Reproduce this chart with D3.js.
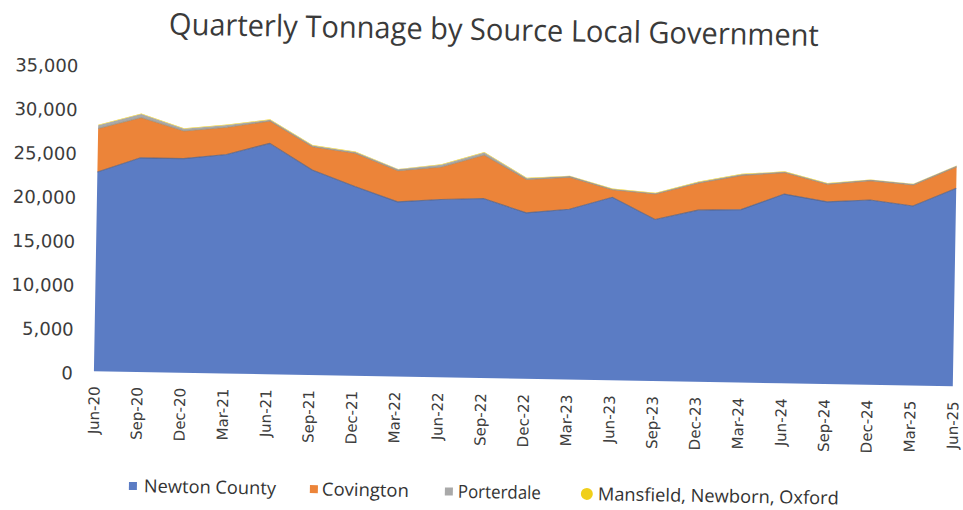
<!DOCTYPE html>
<html>
<head>
<meta charset="utf-8">
<script src="https://cdn.jsdelivr.net/npm/d3@7"></script>
<style>
  html, body { margin: 0; padding: 0; background: #fff; }
  svg { display: block; }
</style>
</head>
<body>
<svg id="chart" width="963" height="510"></svg>
<script>
const categories = ["Jun-20","Sep-20","Dec-20","Mar-21","Jun-21","Sep-21","Dec-21","Mar-22","Jun-22","Sep-22","Dec-22","Mar-23","Jun-23","Sep-23","Dec-23","Mar-24","Jun-24","Sep-24","Dec-24","Mar-25","Jun-25"];
const newtonCounty = [22700,24400,24400,24950,26300,23350,21550,19900,20250,20450,18900,19400,20850,18400,19550,19700,21550,20750,21050,20450,22550];
const covington    = [4950,4600,3150,3100,2550,2650,3800,3550,3700,4950,3800,3650,850,2900,3100,3900,2450,2000,2200,2400,2450];
const porterdale   = [370,380,250,250,150,150,150,150,250,300,150,120,100,100,100,120,100,100,100,100,120];
const mansfieldNewbornOxford = [60,80,60,60,50,50,60,50,70,60,50,50,40,40,50,50,40,40,40,40,40];
const seriesNames = ["Newton County","Covington","Porterdale","Mansfield, Newborn, Oxford"];
const seriesColors = ["#5b7cc4","#ec8439","#a9a9a9","#f0cf1a"];
const yTicks = [0,5000,10000,15000,20000,25000,30000,35000];

const rows = categories.map((c,i) => ({
  cat: c,
  "Newton County": newtonCounty[i],
  "Covington": covington[i],
  "Porterdale": porterdale[i],
  "Mansfield, Newborn, Oxford": mansfieldNewbornOxford[i]
}));

const svg = d3.select("#chart");
svg.append("rect").attr("width",963).attr("height",510).attr("fill","#fff");
const g = svg.append("g").attr("transform","rotate(1.0,480,255)");

const x = d3.scalePoint().domain(categories).range([96,955]);
const y = d3.scaleLinear().domain([0,35000]).range([378,70.7]);

const stack = d3.stack().keys(seriesNames);
const layers = stack(rows);

const area = d3.area()
  .x(d => x(d.data.cat))
  .y0(d => y(d[0]))
  .y1(d => y(d[1]));
const topLine = d3.line()
  .x(d => x(d.data.cat))
  .y(d => y(d[1]));

g.selectAll("path.layer").data(layers).join("path")
  .attr("class","layer")
  .attr("d", area)
  .attr("fill", (d,i) => seriesColors[i]);

g.selectAll("path.edge").data(layers.slice(0,2)).join("path")
  .attr("class","edge")
  .attr("d", topLine)
  .attr("fill","none")
  .attr("stroke", (d,i) => i === 0 ? "#4f5f86" : "#9a8d7a")
  .attr("stroke-width", 1.1)
  .attr("stroke-opacity", 0.75);

// Y axis
const yAxis = g.append("g")
  .attr("transform","translate(80,0)")
  .call(d3.axisLeft(y).tickValues(yTicks).tickFormat(d3.format(",")).tickSize(0).tickPadding(5));
yAxis.select(".domain").remove();
yAxis.selectAll("text")
  .style("font-family","'DejaVu Sans', Verdana, sans-serif")
  .style("font-size","18px")
  .attr("fill","#3c3c3c")
  .attr("dy","0.45em");

// X axis
const xAxis = g.append("g")
  .attr("transform","translate(0,378)")
  .call(d3.axisBottom(x).tickSize(0));
xAxis.select(".domain").remove();
xAxis.selectAll("text")
  .style("font-family","'DejaVu Sans', Verdana, sans-serif")
  .style("font-size","15px")
  .attr("fill","#3c3c3c")
  .attr("transform","rotate(-90)")
  .attr("text-anchor","end")
  .attr("x", -15)
  .attr("y", 0)
  .attr("dy","0.36em");

// Title
g.append("text")
  .attr("x", 490).attr("y", 40)
  .attr("text-anchor","middle")
  .style("font-family","'Liberation Sans Narrow', 'Open Sans', sans-serif")
  .style("font-size","30px")
  .attr("fill","#3a3a3a")
  .attr("textLength", 650)
  .attr("lengthAdjust","spacingAndGlyphs")
  .text("Quarterly Tonnage by Source Local Government");

// Legend
const legendItems = [
  {name: seriesNames[0], color: seriesColors[0], mx: 133, tx: 148, tw: 132, shape: "rect"},
  {name: seriesNames[1], color: seriesColors[1], mx: 314, tx: 326, tw: 87, shape: "rect"},
  {name: seriesNames[2], color: seriesColors[2], mx: 449, tx: 462, tw: 83, shape: "rect"},
  {name: seriesNames[3], color: seriesColors[3], mx: 585, tx: 602, tw: 241, shape: "circle"}
];
const legendY = 492;
const lg = g.append("g");
legendItems.forEach(it => {
  if (it.shape === "rect") {
    lg.append("rect").attr("x", it.mx).attr("y", legendY-4).attr("width", 8).attr("height", 8).attr("fill", it.color);
  } else {
    lg.append("circle").attr("cx", it.mx+6).attr("cy", legendY).attr("r", 6).attr("fill", it.color);
  }
  lg.append("text")
    .attr("x", it.tx).attr("y", legendY)
    .attr("dy","0.34em")
    .style("font-family","'Liberation Sans Narrow', 'Open Sans', sans-serif")
    .style("font-size","18px")
    .attr("fill","#333")
    .attr("textLength", it.tw)
    .attr("lengthAdjust","spacingAndGlyphs")
    .text(it.name);
});
</script>
</body>
</html>
